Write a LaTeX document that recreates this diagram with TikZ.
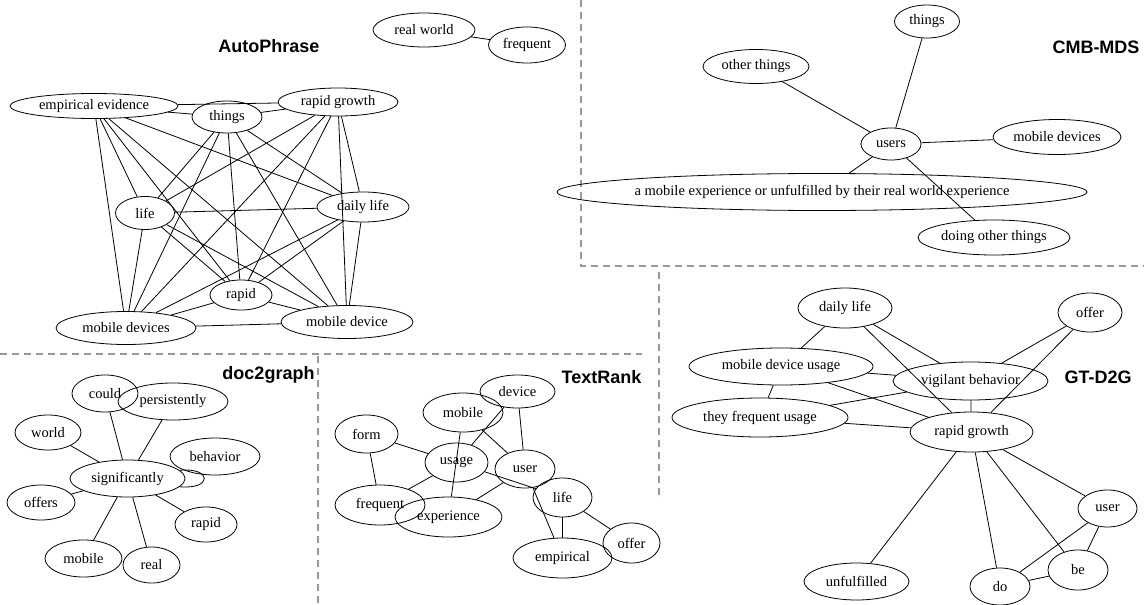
\documentclass[tikz,border=0pt]{standalone}
\usepackage{fontspec}
\setmainfont{Liberation Serif}
\newfontfamily\headfont{Liberation Sans}
\usetikzlibrary{shapes.geometric}

\tikzset{
  nd/.style={draw, ellipse, inner sep=0pt, line width=0.8pt,
             font=\fontsize{14.5}{16}\selectfont},
  sz/.style 2 args={minimum width=#1pt, minimum height=#2pt},
  ln/.style={line width=0.8pt},
  sep/.style={draw=black!40, line width=1.1pt, dash pattern=on 7pt off 5pt},
  ttl/.style={anchor=base, inner sep=0pt, font=\headfont\bfseries\fontsize{18}{20}\selectfont}
}

\begin{document}
\begin{tikzpicture}[x=1pt, y=-1pt]
\useasboundingbox (0,0) rectangle (1144,605);

% panel separators
\draw[sep] (581,0) -- (581,266) -- (1144,266);
\draw[sep] (659,272) -- (659,500);
\draw[sep] (0,354) -- (642,354);
\draw[sep] (318,356) -- (318,605);

% ---------------- AutoPhrase ----------------
\node[ttl] (tAP) at (269,52) {AutoPhrase};
\node[nd, sz={168}{25}] (emp) at (94,106) {empirical evidence};
\node[nd, sz={70}{32}]  (thg) at (227,117) {things};
\node[nd, sz={120}{28}] (rg)  at (338,102) {rapid growth};
\node[nd, sz={59}{33}]  (lif) at (145,213) {life};
\node[nd, sz={92}{30}]  (dl)  at (363,207) {daily life};
\node[nd, sz={62}{30}]  (rap) at (241,295) {rapid};
\node[nd, sz={140}{33}] (mds) at (126,328) {mobile devices};
\node[nd, sz={132}{33}] (md)  at (347,322) {mobile device};
\node[nd, sz={102}{34}] (rw)  at (424,30) {real world};
\node[nd, sz={77}{36}]  (frq) at (527,45) {frequent};

\foreach \a/\b in {emp/thg, emp/rg, emp/lif, emp/dl, emp/rap, emp/mds, emp/md,
                   thg/rg, thg/lif, thg/dl, thg/rap, thg/mds, thg/md,
                   rg/lif, rg/dl, rg/rap, rg/mds, rg/md,
                   lif/dl, lif/rap, lif/mds, lif/md,
                   dl/rap, dl/mds, dl/md,
                   rap/mds, rap/md, mds/md, rw/frq}
  \draw[ln] (\a) -- (\b);

% ---------------- CMB-MDS ----------------
\node[ttl] (tCM) at (1096,53) {CMB-MDS};
\node[nd, sz={65}{33}]  (cthg)  at (927,21.5) {things};
\node[nd, sz={106}{34}] (coth)  at (756,66.5) {other things};
\node[nd, sz={60}{32}]  (cusr)  at (891,144) {users};
\node[nd, sz={128}{35}] (cmd)   at (1057,137) {mobile devices};
\node[nd, sz={480}{37}] (clong) at (822,192) {a mobile experience or unfulfilled by their real world experience};
\node[nd, sz={152}{35}] (cdo)   at (994,237.5) {doing other things};

\foreach \b in {cthg, coth, cmd, clong, cdo}
  \draw[ln] (cusr) -- (\b);

% ---------------- doc2graph ----------------
\node[ttl] (tDG) at (268.5,379) {doc2graph};
\node[nd, sz={66}{37}]  (dcould) at (105,393.5) {could};
\node[nd, sz={110}{37}] (dpers)  at (173,401.5) {persistently};
\node[nd, sz={66}{35}]  (dworld) at (48,432.5) {world};
\node[nd, sz={90}{37}]  (dbeh)   at (215,456.5) {behavior};
\node[nd, sz={115}{37}] (dsig)   at (127.5,478.5) {significantly};
\node[nd, sz={68}{35}]  (doff)   at (41,502.5) {offers};
\node[nd, sz={62}{35}]  (drap)   at (206,524.5) {rapid};
\node[nd, sz={77}{37}]  (dmob)   at (83.5,558.5) {mobile};
\node[nd, sz={57}{36}]  (dreal)  at (151.5,565) {real};

\foreach \b in {dcould, dpers, dworld, doff, drap, dmob, dreal}
  \draw[ln] (dsig) -- (\b);
% self-loop on "significantly"
\draw[ln] (dsig.9) .. controls +(33,-3) and +(33,3) .. (dsig.-9);

% ---------------- TextRank ----------------
\node[ttl] (tTR) at (601.5,383) {TextRank};
\node[nd, sz={75}{33}]  (tdev)  at (517.5,391.5) {device};
\node[nd, sz={80}{39}]  (tmob)  at (463,412.5) {mobile};
\node[nd, sz={63}{38}]  (tform) at (366.5,434) {form};
\node[nd, sz={63}{39}]  (tusg)  at (456.5,462.5) {usage};
\node[nd, sz={60}{38}]  (tusr)  at (525,469) {user};
\node[nd, sz={59}{39}]  (tlif)  at (562.5,497.5) {life};
\node[nd, sz={90}{40}]  (tfrq)  at (380,505) {frequent};
\node[nd, sz={107}{40}] (texp)  at (448.5,517) {experience};
\node[nd, sz={57}{40}]  (toff)  at (631.5,543) {offer};
\node[nd, sz={99}{40}]  (temp)  at (562.5,558) {empirical};

\foreach \a/\b in {tform/tusg, tform/tfrq, tusg/tfrq, tmob/texp, tusg/tdev,
                   tmob/tusr, tdev/tusr, tusg/tlif, tusr/texp, tusr/temp,
                   tlif/temp, tlif/toff}
  \draw[ln] (\a) -- (\b);

% ---------------- GT-D2G ----------------
\node[ttl] (tGT) at (1098,383) {GT-D2G};
\node[nd, sz={94}{40}]  (gdl)  at (845,308) {daily life};
\node[nd, sz={64}{39}]  (goff) at (1090,312.5) {offer};
\node[nd, sz={184}{37}] (gmdu) at (781,366.5) {mobile device usage};
\node[nd, sz={155}{38}] (gvb)  at (970.5,381) {vigilant behavior};
\node[nd, sz={176}{39}] (gtfu) at (760,417.5) {they frequent usage};
\node[nd, sz={123}{40}] (grg)  at (971.5,432) {rapid growth};
\node[nd, sz={59}{37}]  (gusr) at (1107.5,508.5) {user};
\node[nd, sz={60}{40}]  (gbe)  at (1078,570) {be};
\node[nd, sz={60}{37}]  (gdo)  at (1000,586.5) {do};
\node[nd, sz={105}{37}] (gunf) at (856.5,581.5) {unfulfilled};

\foreach \a/\b in {gdl/gmdu, gdl/grg, gdl/gvb, goff/gvb, goff/grg,
                   gmdu/gvb, gmdu/grg, gmdu/gtfu, gtfu/gvb, gtfu/grg,
                   gvb/grg, grg/gunf, grg/gdo, grg/gbe, grg/gusr,
                   gusr/gdo, gusr/gbe, gbe/gdo}
  \draw[ln] (\a) -- (\b);
\end{tikzpicture}
\end{document}
